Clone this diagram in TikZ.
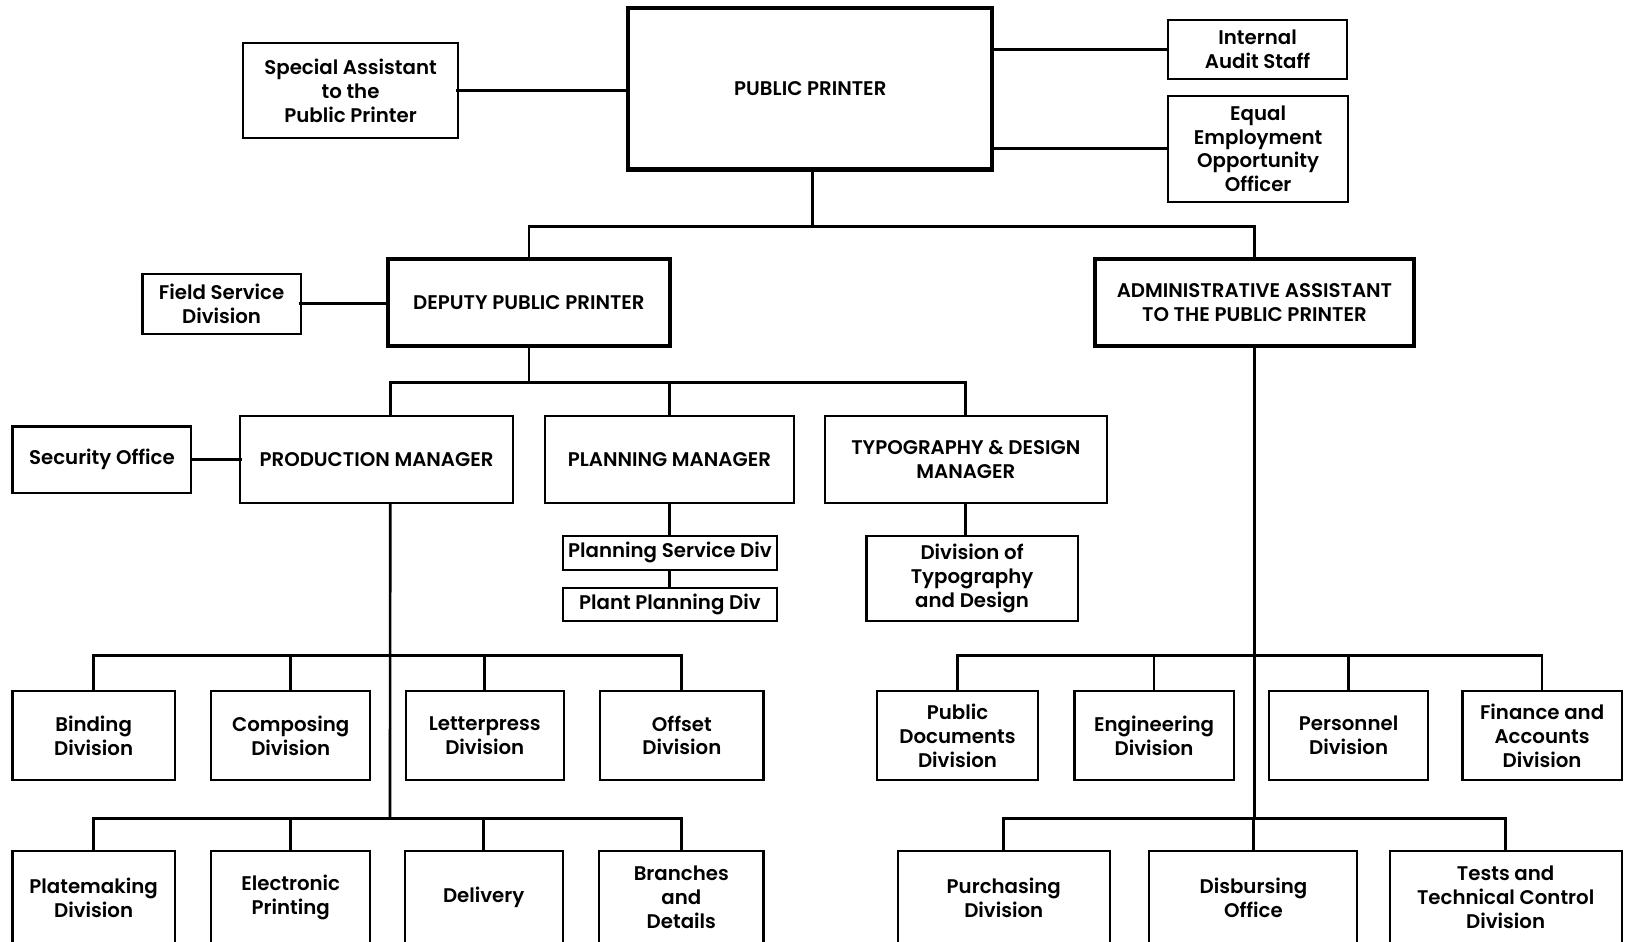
\documentclass[tikz,border=0pt]{standalone}
\usepackage{fontspec}
\setmainfont{Poppins}[BoldFont={Poppins SemiBold}]
\usetikzlibrary{calc}
\tikzset{
  box/.style={draw, line width=2pt, rectangle, inner sep=0pt, outer sep=0pt, align=center,
    font={\fontsize{19}{23}\selectfont\bfseries}},
  thickbox/.style={box, line width=4pt},
  conn/.style={line width=2.6pt, line cap=rect},
}
\begin{document}
\begin{tikzpicture}[x=1pt,y=-1pt]
\clip (0,0) rectangle (1568,905);
\fill[white] (0,0) rectangle (1568,905);
% top level
\node[thickbox, minimum width=350pt, minimum height=155pt] (pp) at (779,85.5) {PUBLIC PRINTER};
\node[box, minimum width=206pt, minimum height=92pt] (sa) at (337,87) {Special Assistant\\to the\\Public Printer};
\node[box, minimum width=172pt, minimum height=57pt] (ia) at (1209,47.5) {Internal\\Audit Staff};
\node[box, minimum width=173pt, minimum height=102pt] (eeo) at (1209.5,143) {Equal\\Employment\\Opportunity\\Officer};
% second level
\node[thickbox, minimum width=271pt, minimum height=84pt] (dpp) at (508.5,291) {DEPUTY PUBLIC PRINTER};
\node[box, minimum width=152pt, minimum height=58pt] (fs) at (213,292) {Field Service\\Division};
\node[thickbox, minimum width=306pt, minimum height=84pt] (aa) at (1206,291) {ADMINISTRATIVE ASSISTANT\\TO THE PUBLIC PRINTER};
% managers
\node[box, minimum width=262pt, minimum height=84pt] (pm) at (362,442) {PRODUCTION MANAGER};
\node[box, minimum width=239pt, minimum height=84pt] (plm) at (643.5,442) {PLANNING MANAGER};
\node[box, minimum width=271pt, minimum height=84pt] (tdm) at (928.5,442) {TYPOGRAPHY \& DESIGN\\MANAGER};
\node[box, minimum width=172pt, minimum height=64pt] (so) at (98,442) {Security Office};
\node[box, minimum width=206pt, minimum height=33pt] (psd) at (644,531.5) {Planning Service Div};
\node[box, minimum width=206pt, minimum height=32pt] (ppd) at (644,581) {Plant Planning Div};
\node[box, minimum width=203pt, minimum height=82pt] (dtd) at (934.5,556) {Division of\\Typography\\and Design};
% production divisions row 1
\node[box, minimum width=156pt, minimum height=86pt] (bind) at (90,707) {Binding\\Division};
\node[box, minimum width=153pt, minimum height=86pt] (comp) at (279.5,707) {Composing\\Division};
\node[box, minimum width=152pt, minimum height=86pt] (lett) at (466,707) {Letterpress\\Division};
\node[box, minimum width=157pt, minimum height=86pt] (off) at (655.5,707) {Offset\\Division};
% production divisions row 2
\node[box, minimum width=156pt, minimum height=90pt] (plate) at (90,863) {Platemaking\\Division};
\node[box, minimum width=153pt, minimum height=90pt] (elec) at (279.5,863) {Electronic\\Printing};
\node[box, minimum width=152pt, minimum height=90pt] (del) at (465,863) {Delivery};
\node[box, minimum width=158pt, minimum height=90pt] (br) at (655,863) {Branches\\and\\Details};
% admin divisions row 1
\node[box, minimum width=155pt, minimum height=86pt] (pd) at (920.5,707) {Public\\Documents\\Division};
\node[box, minimum width=153pt, minimum height=86pt] (eng) at (1109.5,707) {Engineering\\Division};
\node[box, minimum width=153pt, minimum height=86pt] (pers) at (1296.5,707) {Personnel\\Division};
\node[box, minimum width=153pt, minimum height=86pt] (fin) at (1482.5,707) {Finance and\\Accounts\\Division};
% admin divisions row 2
\node[box, minimum width=204pt, minimum height=90pt] (pur) at (965,863) {Purchasing\\Division};
\node[box, minimum width=200pt, minimum height=90pt] (dis) at (1205,863) {Disbursing\\Office};
\node[box, minimum width=223pt, minimum height=90pt] (tests) at (1447.5,863) {Tests and\\Technical Control\\Division};
% bus coordinates
\coordinate (b1) at (781,218);
\coordinate (b2) at (508.5,368);
\coordinate (pmtop) at ($(pm.north west)!0.55!(pm.north east)$);
\coordinate (pmbot) at ($(pm.south west)!0.55!(pm.south east)$);
\coordinate (pb1) at (375,630);
\coordinate (pb2) at (375,787);
\coordinate (ab1) at (1206,630);
\coordinate (ab2) at (1206,787);
% connectors top
\draw[conn] (sa.east) -- (sa.east -| pp.west);
\draw[conn] (ia.west) -- (ia.west -| pp.east);
\draw[conn] (eeo.west) -- (eeo.west -| pp.east);
\draw[conn] (pp.south -| b1) -- (b1);
\draw[conn] (b1) -| (dpp.north);
\draw[conn] (b1) -| (aa.north);
\draw[conn] (fs.east) -- (fs.east -| dpp.west);
% deputy branch
\draw[conn] (dpp.south) -- (b2);
\draw[conn] (b2) -| (pmtop);
\draw[conn] (b2) -| (plm.north);
\draw[conn] (b2) -| (tdm.north);
\draw[conn] (so.east) -- (so.east -| pm.west);
\draw[conn] (plm.south) -- (plm.south |- psd.north);
\draw[conn] (psd.south -| plm.south) -- (ppd.north -| plm.south);
\draw[conn] (tdm.south) -- (tdm.south |- dtd.north);
% production divisions
\draw[conn] (pmbot) -- (pb2);
\draw[conn] (pb1) -| (bind.north);
\draw[conn] (pb1) -| (comp.north);
\draw[conn] (pb1) -| (lett.north);
\draw[conn] (pb1) -| (off.north);
\draw[conn] (pb2) -| (plate.north);
\draw[conn] (pb2) -| (elec.north);
\draw[conn] (pb2) -| (del.north);
\draw[conn] (pb2) -| (br.north);
% admin divisions
\draw[conn] (aa.south) -- (ab2);
\draw[conn] (ab1) -| (pd.north);
\draw[conn] (ab1) -| (eng.north);
\draw[conn] (ab1) -| (pers.north);
\draw[conn] (ab1) -| (fin.north);
\draw[conn] (ab2) -| (pur.north);
\draw[conn] (ab2) -| (dis.north);
\draw[conn] (ab2) -| (tests.north);
\end{tikzpicture}
\end{document}
